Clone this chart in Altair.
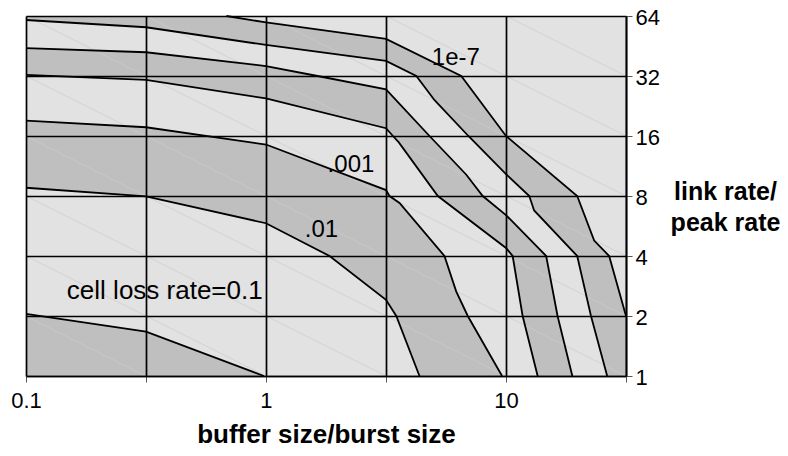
import altair as alt
import pandas as pd

# ---------------- data ----------------
X_NODES = [0.1, 0.31623, 1.0, 3.1623, 10.0, 31.623]   # buffer size / burst size grid
Y_NODES = [1, 2, 4, 8, 16, 32, 64]                    # link rate / peak rate grid

LEVELS = ["1e-7", "1e-6", "1e-5", "1e-4", "0.001", "0.01", "0.1"]

L0_X = [0.684, 1.0, 3.1623, 6.51, 10.0, 19.8, 23.3, 26.9, 31.623]
L0_Y = [64, 59.4, 49.1, 32, 16, 8, 4.78, 4, 2]
L1_X = [0.1, 0.31623, 1.0, 3.1623, 4.23, 5.04, 6.97, 10.0, 12.5, 13.1, 19.8, 22.6, 26.4]
L1_Y = [61.1, 56.2, 45.8, 38.1, 32, 24.2, 16, 10.3, 8, 6.77, 4, 2, 1]
L2_X = [0.1, 0.31623, 1.0, 1.64, 3.1623, 4.80, 6.82, 8.0, 10.0, 14.7, 16.4, 18.9]
L2_Y = [44.2, 42.1, 35.9, 32, 27.4, 16, 10.26, 8, 6.42, 4, 2, 1]
L3_X = [0.1, 0.31623, 1.0, 3.1623, 3.38, 3.57, 5.20, 10.0, 10.66, 11.73, 13.55]
L3_Y = [32.4, 30.6, 24.7, 17.5, 16, 14.9, 8, 4.39, 4, 2, 1]
L4_X = [0.1, 0.31623, 1.0, 3.1623, 3.27, 3.60, 5.54, 6.20, 6.93, 9.63]
L4_Y = [19.1, 17.7, 14.5, 8.57, 8, 7.38, 4, 2.66, 2, 1]
L5_X = [0.1, 0.31623, 1.0, 1.84, 3.1623, 3.49, 4.36]
L5_Y = [8.80, 7.97, 5.84, 4, 2.41, 2, 1]
L6_X = [0.1, 0.31623, 0.98]
L6_Y = [2.05, 1.67, 1.0]

LINES_X = [L0_X, L1_X, L2_X, L3_X, L4_X, L5_X, L6_X]
LINES_Y = [L0_Y, L1_Y, L2_Y, L3_Y, L4_Y, L5_Y, L6_Y]

MAIN_LABEL = "cell loss rate=0.1"
MAIN_LABEL_X = 0.148
MAIN_LABEL_Y = 2.42

LABEL_TEXT = [".01", ".001", "1e-7"]
LABEL_X = [1.45, 1.806, 4.91]
LABEL_Y = [4.98, 10.59, 36.3]

# ---------------- styling ----------------
FONT = "Liberation Sans"
LIGHT = "#e2e2e2"
DARK = "#bfbfbf"
FILLS = [DARK, LIGHT, DARK, LIGHT, DARK, LIGHT, DARK]

xscale = alt.Scale(type="log", domain=[X_NODES[0], X_NODES[-1]], nice=False)
yscale = alt.Scale(type="log", base=2, domain=[Y_NODES[0], Y_NODES[-1]], nice=False)

xaxis = alt.Axis(
    values=X_NODES,
    labelExpr="datum.value == 0.1 ? '0.1' : datum.value == 1 ? '1' : datum.value == 10 ? '10' : ''",
    title="buffer size/burst size",
    grid=True, gridColor="black", gridWidth=1.7,
    ticks=True, tickColor="#555555", tickSize=6, tickWidth=1,
    domain=True, domainColor="black", domainWidth=1.7,
    labelFont=FONT, labelFontSize=22, labelColor="black", labelPadding=8,
    labelFlush=False, labelOverlap=False,
    titleFont=FONT, titleFontSize=26, titleFontWeight="bold", titleColor="black",
    titlePadding=10, zindex=1,
)
yaxis = alt.Axis(
    orient="right", values=Y_NODES, format="d",
    title=["link rate/", "peak rate"],
    titleAngle=0, titleAlign="center", titleBaseline="alphabetic",
    titleX=99, titleY=183, titleLineHeight=31,
    titleFont=FONT, titleFontSize=25, titleFontWeight="bold", titleColor="black",
    grid=True, gridColor="black", gridWidth=1.7,
    ticks=True, tickColor="#555555", tickSize=6, tickWidth=1,
    domain=True, domainColor="black", domainWidth=1.7,
    labelFont=FONT, labelFontSize=22, labelColor="black", labelPadding=3,
    labelAlign="left", labelBaseline="middle", labelOffset=1,
    labelFlush=False, labelOverlap=False,
    zindex=1,
)


def X(field="x:Q"):
    return alt.X(field, scale=xscale, axis=xaxis)


def Y(field="y:Q"):
    return alt.Y(field, scale=yscale, axis=yaxis)


layers = []

# light background of the whole surface (lowest band)
bg = alt.Chart(pd.DataFrame({"x": [X_NODES[0]], "x2": [X_NODES[-1]],
                             "y": [Y_NODES[0]], "y2": [Y_NODES[-1]]})).mark_rect(
    color=LIGHT, opacity=1
).encode(x=X(), x2="x2:Q", y=Y(), y2="y2:Q")
layers.append(bg)

# filled bands: area under each contour, drawn from the outermost to the innermost
for k, (lx, ly) in enumerate(zip(LINES_X, LINES_Y)):
    ax, ay = list(lx), list(ly)
    if ay[0] == Y_NODES[-1] and ax[0] > X_NODES[0]:
        ax = [X_NODES[0]] + ax
        ay = [Y_NODES[-1]] + ay
    df = pd.DataFrame({"x": ax, "y": ay})
    layers.append(
        alt.Chart(df).mark_area(color=FILLS[k], opacity=1, interpolate="linear").encode(
            x=X(), y=Y(), y2=alt.datum(Y_NODES[0])
        )
    )

# faint triangulation diagonals of the surface grid
diag_rows = []
for i in range(len(X_NODES) - 1):
    for j in range(len(Y_NODES) - 1):
        diag_rows.append({"x": X_NODES[i], "y": Y_NODES[j + 1],
                          "x2": X_NODES[i + 1], "y2": Y_NODES[j]})
diag = alt.Chart(pd.DataFrame(diag_rows)).mark_rule(color="#cccccc", strokeWidth=0.7).encode(
    x=X(), y=Y(), x2="x2:Q", y2="y2:Q",
)
layers.append(diag)

# contour lines
line_rows = []
for k, (lx, ly) in enumerate(zip(LINES_X, LINES_Y)):
    for xv, yv in zip(lx, ly):
        line_rows.append({"x": xv, "y": yv, "level": LEVELS[k]})
contours = alt.Chart(pd.DataFrame(line_rows)).mark_line(color="black", strokeWidth=1.8).encode(
    x=X(), y=Y(), detail="level:N",
)
layers.append(contours)

# level labels
main_label = alt.Chart(pd.DataFrame({"x": [MAIN_LABEL_X], "y": [MAIN_LABEL_Y], "t": [MAIN_LABEL]})).mark_text(
    align="left", baseline="alphabetic", font=FONT, fontSize=26, color="black"
).encode(x=X(), y=Y(), text="t:N")
layers.append(main_label)

labels = alt.Chart(pd.DataFrame({"x": LABEL_X, "y": LABEL_Y, "t": LABEL_TEXT})).mark_text(
    align="left", baseline="alphabetic", font=FONT, fontSize=24, color="black"
).encode(x=X(), y=Y(), text="t:N")
layers.append(labels)

chart = alt.layer(*layers).properties(
    width=600, height=360,
    autosize=alt.AutoSizeParams(type="none"),
    padding={"left": 18, "top": 8, "right": 154, "bottom": 72},
).configure_view(fill=LIGHT, strokeWidth=0).configure(background="white")

chart.save("out.html", embed_options={"renderer": "svg", "actions": False})
